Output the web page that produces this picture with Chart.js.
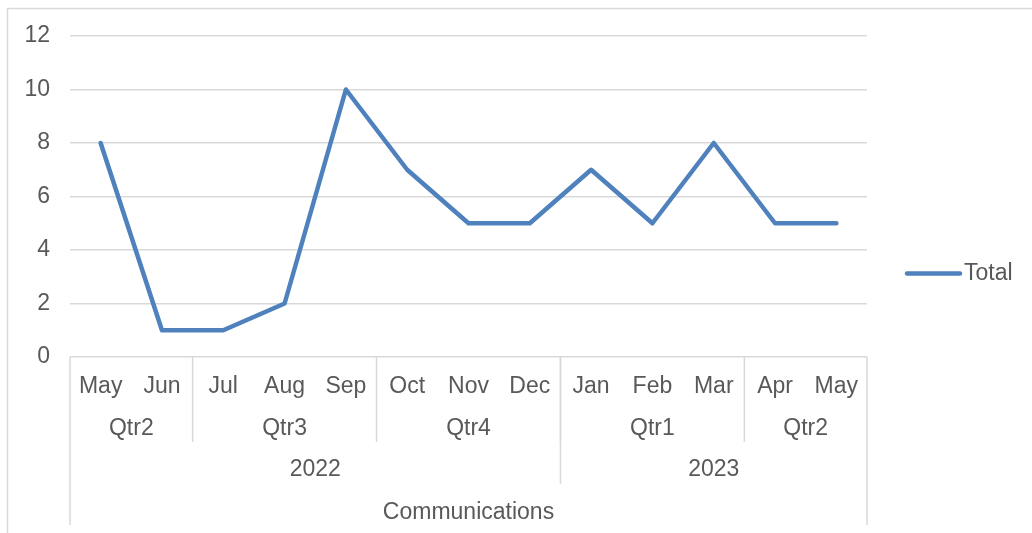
<!DOCTYPE html>
<html>
<head>
<meta charset="utf-8">
<title>Communications</title>
<script src="https://cdn.jsdelivr.net/npm/chart.js@4.4.0/dist/chart.umd.min.js"></script>
<style>
  html, body { margin: 0; padding: 0; background: #fff; }
  #wrap { width: 1032px; height: 533px; position: relative; }
</style>
</head>
<body>
<div id="wrap"><canvas id="chart"></canvas></div>
<script>
// months on the axis, values of the "Total" series
const months = ['May', 'Jun', 'Jul', 'Aug', 'Sep', 'Oct', 'Nov', 'Dec', 'Jan', 'Feb', 'Mar', 'Apr', 'May']
const totals = [8, 1, 1, 2, 10, 7, 5, 5, 7, 5, 8, 5, 5]

// quarter and year groups: label + how many months each one covers
const quarters = ['Qtr2', 'Qtr3', 'Qtr4', 'Qtr1', 'Qtr2']
const quarterSizes = [2, 3, 3, 3, 2]
const years = ['2022', '2023']
const yearSizes = [8, 5]
const fieldName = 'Communications'
const seriesName = 'Total'

const textColor = '#595959'
const lineColor = '#d9d9d9'
const blue = '#4F81BD'
const fontFamily = "'Liberation Sans', Arial, sans-serif"
const fontSize = 23

// draws the grouped category rows, their dividers, the legend and the frame
const groupedAxis = {
  id: 'groupedAxis',
  afterDraw(chart) {
    const ctx = chart.ctx
    const x = chart.scales.x
    const area = chart.chartArea
    const step = x.width / months.length
    const edge = i => x.getPixelForValue(i) - step / 2

    ctx.save()
    ctx.strokeStyle = lineColor
    ctx.lineWidth = 1.5
    ctx.fillStyle = textColor
    ctx.font = fontSize + 'px ' + fontFamily
    ctx.textAlign = 'center'
    ctx.textBaseline = 'middle'

    const qRowY = area.bottom + 72
    const yRowY = area.bottom + 113
    const qLineEnd = area.bottom + 85
    const yLineEnd = area.bottom + 127
    const outerEnd = area.bottom + 168

    function vline(px, y2) {
      ctx.beginPath()
      ctx.moveTo(px, area.bottom)
      ctx.lineTo(px, y2)
      ctx.stroke()
    }

    // quarter row
    let start = 0
    quarters.forEach((q, k) => {
      const end = start + quarterSizes[k]
      ctx.fillText(q, (edge(start) + edge(end)) / 2, qRowY)
      if (start > 0) vline(edge(start), qLineEnd)
      start = end
    })

    // year row
    start = 0
    years.forEach((yr, k) => {
      const end = start + yearSizes[k]
      ctx.fillText(yr, (edge(start) + edge(end)) / 2, yRowY)
      if (start > 0) vline(edge(start), yLineEnd)
      start = end
    })

    vline(edge(0), outerEnd)
    vline(edge(months.length), outerEnd)

    // legend
    const ly = (area.top + area.bottom) / 2 + 77
    const lx = area.right + 40
    ctx.strokeStyle = blue
    ctx.lineWidth = 4.5
    ctx.lineCap = 'round'
    ctx.beginPath()
    ctx.moveTo(lx, ly)
    ctx.lineTo(lx + 53, ly)
    ctx.stroke()
    ctx.textAlign = 'left'
    ctx.fillText(seriesName, lx + 57, ly)

    // outer frame
    ctx.strokeStyle = lineColor
    ctx.lineWidth = 1.5
    ctx.lineCap = 'butt'
    ctx.beginPath()
    ctx.moveTo(7.5, chart.height + 2)
    ctx.lineTo(7.5, 8.5)
    ctx.lineTo(chart.width + 2, 8.5)
    ctx.stroke()
    ctx.restore()
  }
}

Chart.defaults.font.family = fontFamily
Chart.defaults.font.size = fontSize
Chart.defaults.color = textColor

const ctx = document.getElementById('chart').getContext('2d')
const chart = new Chart(ctx, {
  type: 'line',
  data: {
    labels: months,
    datasets: [{
      label: seriesName,
      data: totals,
      borderColor: blue,
      borderWidth: 4.5,
      borderCapStyle: 'round',
      borderJoinStyle: 'round',
      pointRadius: 0,
      fill: false,
      tension: 0
    }]
  },
  options: {
    responsive: true,
    maintainAspectRatio: false,
    animation: false,
    layout: { padding: { top: 36, left: 0, right: 165, bottom: 0 } },
    plugins: {
      legend: { display: false },
      tooltip: { enabled: false }
    },
    scales: {
      x: {
        offset: true,
        grid: { display: false },
        border: { display: false },
        ticks: { padding: 8, maxRotation: 0, autoSkip: false },
        title: {
          display: true,
          text: fieldName,
          padding: { top: 0, bottom: 7 }
        },
        afterFit(scale) { scale.height = 176 }
      },
      y: {
        min: 0,
        max: 12,
        ticks: { stepSize: 2, padding: 20 },
        grid: { color: lineColor, lineWidth: 1.5, drawTicks: false },
        border: { display: false },
        afterFit(scale) { scale.width = 70 }
      }
    }
  },
  plugins: [groupedAxis]
})
</script>
</body>
</html>
